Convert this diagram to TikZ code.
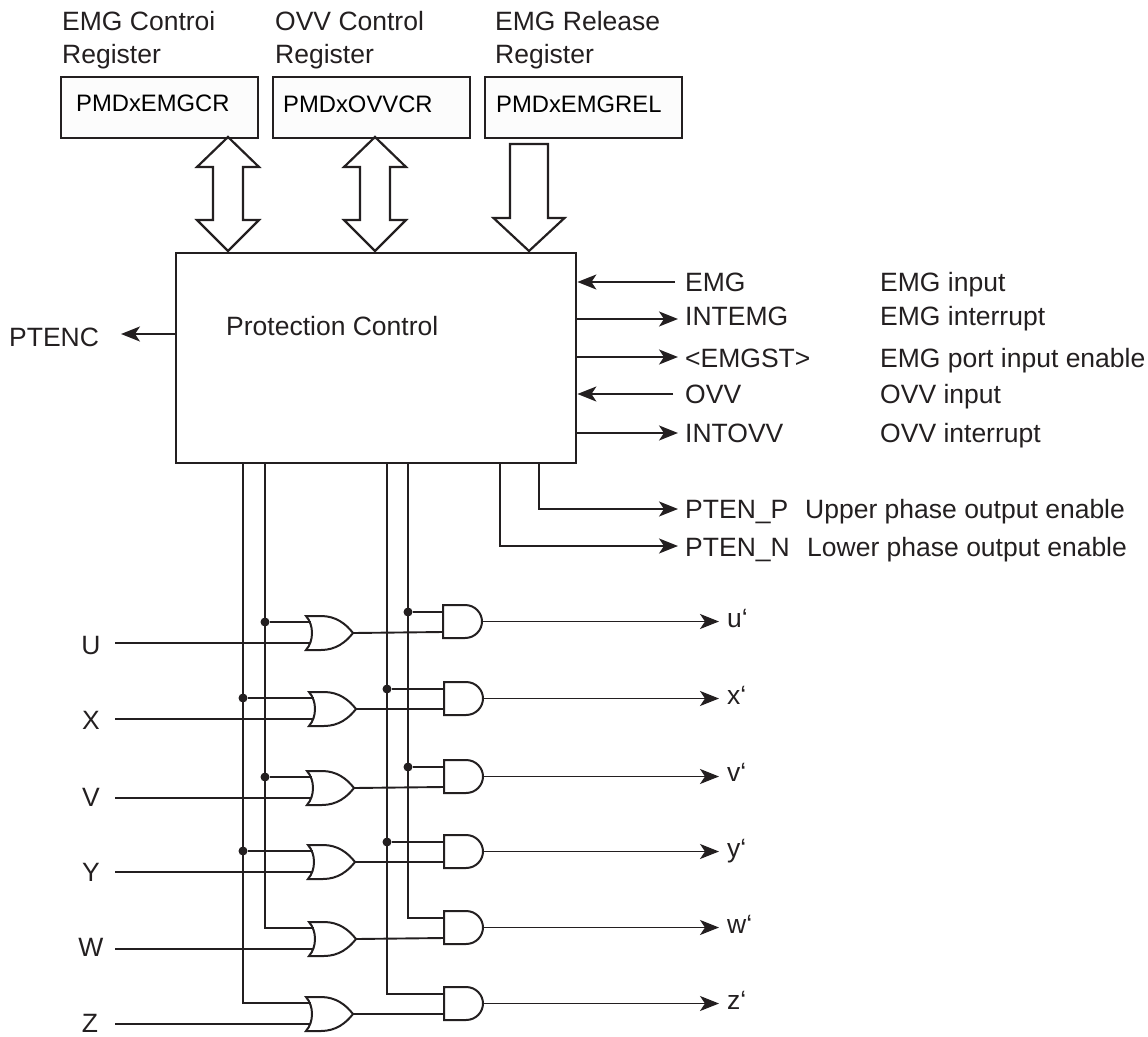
\documentclass[tikz,border=0pt]{standalone}
\usepackage{fontspec}
\setmainfont{Liberation Sans}
\usetikzlibrary{arrows.meta,calc}
\definecolor{ink}{HTML}{231F20}
\tikzset{
  x=1pt,y=-1pt,
  wire/.style={draw=ink,line width=1.9pt},
  arrowwire/.style={wire,-{Stealth[length=19pt,width=15pt,inset=5pt]}},
  lab/.style={inner sep=0pt,anchor=west,text=ink,font=\fontsize{26.5}{30}\selectfont,text height=19pt,text depth=0pt},
  reglab/.style={lab,font=\fontsize{23.8}{28}\selectfont,text height=17pt,text=black},
  regbox/.style={draw=ink,line width=1.8pt,fill=black!1,inner sep=0pt},
  hollow/.style={draw=ink,line width=2.2pt,fill=white,line join=miter},
  dot/.style={circle,fill=ink,inner sep=0pt,minimum size=9pt},
  orgate/.pic={
    \draw[draw=ink,line width=2pt,fill=white,line join=miter]
      (0,0) -- (15,0) .. controls (30,0) and (40,8) .. (47,17)
      .. controls (40,26) and (30,34) .. (15,34) -- (0,34)
      .. controls (8,25) and (8,9) .. (0,0) -- cycle;
    \coordinate (-a) at (5,6);
    \coordinate (-b) at (5,27);
    \coordinate (-o) at (47,17);
  },
  andgate/.pic={
    \draw[draw=ink,line width=2pt,fill=white]
      (0,0) -- (22,0) .. controls (32,0) and (39,8) .. (39,16.5)
      .. controls (39,25) and (32,33) .. (22,33) -- (0,33) -- cycle;
    \coordinate (-a) at (0,7);
    \coordinate (-b) at (0,27);
    \coordinate (-o) at (39,16.5);
  }
}
\begin{document}
\begin{tikzpicture}
\useasboundingbox (0,0) rectangle (1148,1036);
% register boxes
\node[regbox,minimum width=197pt,minimum height=61pt,anchor=north west] (r1) at (60,76) {};
\node[regbox,minimum width=197pt,minimum height=61pt,anchor=north west] (r2) at (272,76) {};
\node[regbox,minimum width=197pt,minimum height=61pt,anchor=north west] (r3) at (484,76) {};
\node[reglab] (r1t) at (76,103) {PMDxEMGCR};
\node[reglab] (r2t) at (283,104) {PMDxOVVCR};
\node[reglab] (r3t) at (496,104) {PMDxEMGREL};
\node[lab] (h1a) at (62,21) {EMG Controi};
\node[lab] (h1b) at (62,54) {Register};
\node[lab] (h2a) at (275,21) {OVV Control};
\node[lab] (h2b) at (275,54) {Register};
\node[lab] (h3a) at (495,21) {EMG Release};
\node[lab] (h3b) at (495,54) {Register};
% main box
\node[draw=ink,line width=2.4pt,minimum width=400pt,minimum height=210pt,anchor=north west,inner sep=0pt] (pc) at (175,252) {};
\node[lab] (pct) at (226,326) {Protection Control};
% block arrows
\filldraw[hollow] (228,137) -- (259,167) -- (243,167) -- (243,220) -- (259,220) -- (228,251) -- (197,220) -- (213,220) -- (213,167) -- (197,167) -- cycle;
\filldraw[hollow] (375,137) -- (406,167) -- (390,167) -- (390,220) -- (406,220) -- (375,251) -- (344,220) -- (360,220) -- (360,167) -- (344,167) -- cycle;
\filldraw[hollow] (529,144) -- (548,144) -- (548,218) -- (564.5,218) -- (529,251) -- (493.5,218) -- (510,218) -- (510,144) -- cycle;
% right labels
\node[lab] (emg) at (685,282) {EMG};
\node[lab] (intemg) at (685,316) {INTEMG};
\node[lab] (emgst) at (685,358) {<EMGST>};
\node[lab] (ovv) at (685,394) {OVV};
\node[lab] (intovv) at (685,433) {INTOVV};
\node[lab] (d1) at (880,282) {EMG input};
\node[lab] (d2) at (880,316) {EMG interrupt};
\node[lab] (d3) at (880,358) {EMG port input enable};
\node[lab] (d4) at (880,394) {OVV input};
\node[lab] (d5) at (880,433) {OVV interrupt};
\node[lab] (pp) at (685,509) {PTEN\_P};
\node[lab] (pn) at (685,547) {PTEN\_N};
\node[lab] (d6) at (805,509) {Upper phase output enable};
\node[lab] (d7) at (807,547) {Lower phase output enable};
\node[lab] (ptenc) at (9,337) {PTENC};
\coordinate (c1) at (675,282);
\coordinate (c2) at (678,319);
\coordinate (c3) at (678,357);
\coordinate (c4) at (673,394);
\coordinate (c5) at (678,433);
\coordinate (c0) at (121,334);
\draw[arrowwire] (c1) -- (c1-|pc.east);
\draw[arrowwire] (c4) -- (c4-|pc.east);
\draw[arrowwire] (pc.east|-c2) -- (c2);
\draw[arrowwire] (pc.east|-c3) -- (c3);
\draw[arrowwire] (pc.east|-c5) -- (c5);
\draw[arrowwire] (pc.west|-c0) -- (c0);
\coordinate (tp) at (539,462);
\coordinate (tn) at (500,462);
\coordinate (ep) at (678,509);
\coordinate (en) at (678,546);
\draw[arrowwire] (tp) |- (ep);
\draw[arrowwire] (tn) |- (en);
% gates
\pic (o1) at (306,616) {orgate};
\pic (o2) at (309,692) {orgate};
\pic (o3) at (307,771) {orgate};
\pic (o4) at (308,845) {orgate};
\pic (o5) at (309,922) {orgate};
\pic (o6) at (306,997) {orgate};
\pic (g1) at (443,605) {andgate};
\pic (g2) at (444,682) {andgate};
\pic (g3) at (444,760) {andgate};
\pic (g4) at (444,835) {andgate};
\pic (g5) at (444,911) {andgate};
\pic (g6) at (444,987) {andgate};
% input labels
\node[lab,anchor=center] (U) at (91,645) {U};
\node[lab,anchor=center] (X) at (91,720) {X};
\node[lab,anchor=center] (V) at (91,797) {V};
\node[lab,anchor=center] (Y) at (91,872) {Y};
\node[lab,anchor=center] (W) at (91,947) {W};
\node[lab,anchor=center] (Z) at (90,1023) {Z};
\coordinate (iU) at (115,643);
\coordinate (iX) at (115,719);
\coordinate (iV) at (115,798);
\coordinate (iY) at (115,872);
\coordinate (iW) at (115,949);
\coordinate (iZ) at (115,1024);
\draw[wire] (iU) -- (o1-b);
\draw[wire] (iX) -- (o2-b);
\draw[wire] (iV) -- (o3-b);
\draw[wire] (iY) -- (o4-b);
\draw[wire] (iW) -- (o5-b);
\draw[wire] (iZ) -- (o6-b);
% buses
\coordinate (b1) at (243,462);
\coordinate (b2) at (265,462);
\coordinate (b3) at (387,462);
\coordinate (b4) at (408,462);
\draw[wire] (b2) |- (o5-a);
\draw[wire] (b1) |- (o6-a);
\draw[wire] (b4) |- (g5-a);
\draw[wire] (b3) |- (g6-a);
\node[dot] (n1) at (b2|-o1-a) {}; \draw[wire] (n1) -- (o1-a);
\node[dot] (n2) at (b1|-o2-a) {}; \draw[wire] (n2) -- (o2-a);
\node[dot] (n3) at (b2|-o3-a) {}; \draw[wire] (n3) -- (o3-a);
\node[dot] (n4) at (b1|-o4-a) {}; \draw[wire] (n4) -- (o4-a);
\node[dot] (n5) at (b4|-g1-a) {}; \draw[wire] (n5) -- (g1-a);
\node[dot] (n6) at (b3|-g2-a) {}; \draw[wire] (n6) -- (g2-a);
\node[dot] (n7) at (b4|-g3-a) {}; \draw[wire] (n7) -- (g3-a);
\node[dot] (n8) at (b3|-g4-a) {}; \draw[wire] (n8) -- (g4-a);
\foreach \i in {1,...,6} { \draw[wire] (o\i-o) -- (g\i-b); }
% outputs
\node[lab] (uo) at (727,618) {u‘};
\node[lab] (xo) at (727,695) {x‘};
\node[lab] (vo) at (727,772) {v‘};
\node[lab] (yo) at (727,848) {y‘};
\node[lab] (wo) at (727,924) {w‘};
\node[lab] (zo) at (727,1000) {z‘};
\draw[arrowwire] (g1-o) -- ([xshift=-8pt]g1-o-|uo.west);
\draw[arrowwire] (g2-o) -- ([xshift=-8pt]g2-o-|xo.west);
\draw[arrowwire] (g3-o) -- ([xshift=-8pt]g3-o-|vo.west);
\draw[arrowwire] (g4-o) -- ([xshift=-8pt]g4-o-|yo.west);
\draw[arrowwire] (g5-o) -- ([xshift=-8pt]g5-o-|wo.west);
\draw[arrowwire] (g6-o) -- ([xshift=-8pt]g6-o-|zo.west);
\end{tikzpicture}
\end{document}
